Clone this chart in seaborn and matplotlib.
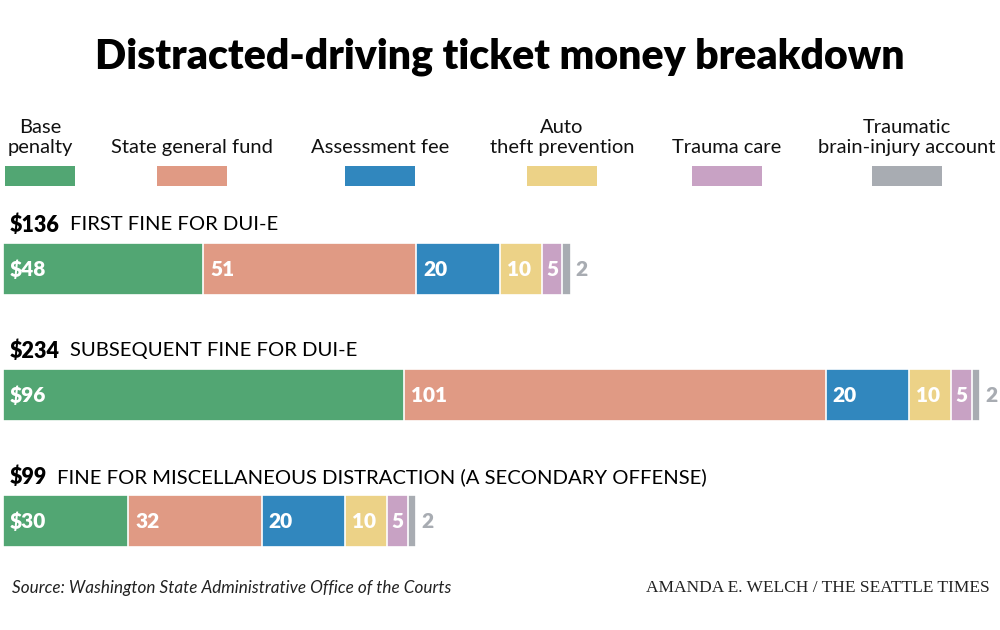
import matplotlib
matplotlib.use("Agg")
import matplotlib.pyplot as plt
from matplotlib.patches import Rectangle
import seaborn as sns
import pandas as pd
import numpy as np

# --- data ---------------------------------------------------------------
categories = ["Base\npenalty", "State general fund", "Assessment fee",
              "Auto\ntheft prevention", "Trauma care",
              "Traumatic\nbrain-injury account"]
colors = ["#52A673", "#E09A84", "#3187BE", "#ECD287", "#C8A2C4", "#A8ACB2"]

fines = ["FIRST FINE FOR DUI-E", "SUBSEQUENT FINE FOR DUI-E",
         "FINE FOR MISCELLANEOUS DISTRACTION (A SECONDARY OFFENSE)"]
totals = [136, 234, 99]
base_penalty = [48, 96, 30]
state_fund = [51, 101, 32]
assessment_fee = [20, 20, 20]
auto_theft = [10, 10, 10]
trauma_care = [5, 5, 5]
brain_injury = [2, 2, 2]

parts = [base_penalty, state_fund, assessment_fee, auto_theft, trauma_care, brain_injury]

# --- style --------------------------------------------------------------
sns.set_style("white")
plt.rcParams["font.family"] = ["Lato", "DejaVu Sans"]

fig = plt.figure(figsize=(10, 6.3), dpi=100)
fig.patch.set_facecolor("white")

# title
fig.text(0.5, 1 - 57 / 630, "Distracted-driving ticket money breakdown",
         ha="center", va="center", fontsize=29.5, fontweight="heavy", color="black")

# legend (labels above colour chips)
leg_x = [40, 192, 380, 562, 727, 907]
for cat, col, xc in zip(categories, colors, leg_x):
    fig.text(xc / 1000, 1 - 156 / 630, cat, ha="center", va="bottom",
             fontsize=14.5, linespacing=1.2, color="#111111")
    fig.patches.append(Rectangle(((xc - 35) / 1000, 1 - 186 / 630), 70 / 1000, 20 / 630,
                                 transform=fig.transFigure, facecolor=col,
                                 edgecolor="none"))

# --- stacked bars via cumulative overlay -------------------------------
ax = fig.add_axes([0.003, 1 - 584 / 630, 0.977, 378 / 630])
df = pd.DataFrame({"fine": fines})
cum = np.cumsum(np.array(parts), axis=0)
for k in range(len(parts) - 1, -1, -1):
    df["cum"] = cum[k]
    sns.barplot(data=df, x="cum", y="fine", color=colors[k], orient="h",
                width=0.41, edgecolor="white", linewidth=1.2, saturation=1, ax=ax)

ax.set_xlim(0, 234)
ax.set_ylim(2.5, -0.5)
ax.axis("off")

px = 234 / 977  # data units per pixel
for i in range(len(fines)):
    left = 0
    for k, p in enumerate(parts):
        v = p[i]
        lab = f"${v}" if k == 0 else str(v)
        if k == len(parts) - 1:
            ax.text(left + v + 5 * px, i, lab, ha="left", va="center",
                    fontsize=15, fontweight="heavy", color=colors[k])
        elif v <= 5:
            ax.text(left + v / 2, i, lab, ha="center", va="center",
                    fontsize=15, fontweight="heavy", color="white")
        else:
            ax.text(left + 7 * px, i, lab, ha="left", va="center",
                    fontsize=15, fontweight="heavy", color="white")
        left += v

# headers: bold amount + regular description
fig.canvas.draw()
renderer = fig.canvas.get_renderer()
for i, (f, t) in enumerate(zip(fines, totals)):
    tt = ax.text(7 * px, i - 0.35, f"${t}", ha="left", va="center",
                 fontsize=15.5, fontweight="heavy", color="black")
    bb = tt.get_window_extent(renderer)
    x_end = ax.transData.inverted().transform((bb.x1, bb.y0))[0]
    ax.text(x_end + 10 * px, i - 0.35, f, ha="left", va="center",
            fontsize=14.6, color="black")

# footer
fig.text(0.012, 1 - 588 / 630, "Source: Washington State Administrative Office of the Courts",
         ha="left", va="center", fontsize=12.3, style="italic", color="#222222")
fig.text(0.990, 1 - 588 / 630, "AMANDA E. WELCH / THE SEATTLE TIMES",
         ha="right", va="center", fontsize=12.5, color="#222222",
         family=["Liberation Serif", "DejaVu Serif"])

fig.savefig("out.png", dpi=100, facecolor="white")
